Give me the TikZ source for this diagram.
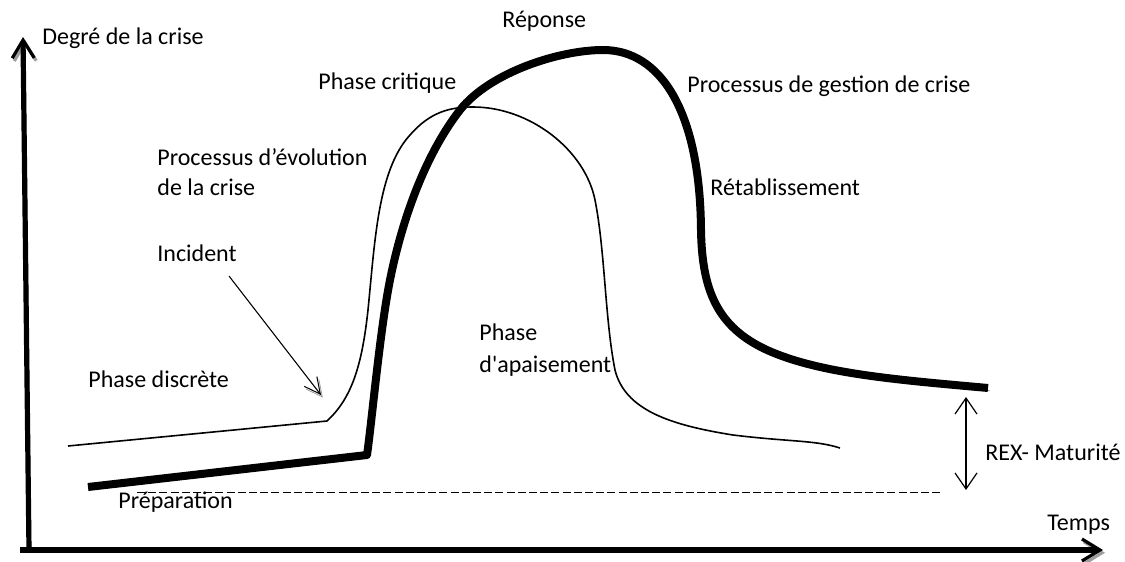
\documentclass[tikz,border=0pt]{standalone}
\usepackage{fontspec}
\setmainfont{Carlito}
\usetikzlibrary{arrows.meta}
\tikzset{
  lbl/.style={anchor=base west, inner sep=0pt, font=\fontsize{12}{14.4}\selectfont},
  shadowed/.style={preaction={draw=black!38, transform canvas={xshift=1pt, yshift=-1.4pt}}},
  axis/.style={line width=2.6pt, shadowed, -{Straight Barb[length=9pt, width=11pt, line width=1.6pt]}},
  crisis/.style={line width=4pt, shadowed, line join=round},
  evol/.style={line width=0.8pt},
}
\begin{document}
\begin{tikzpicture}[x=0.5pt,y=0.5pt,yscale=-1,xscale=1]
\useasboundingbox (0,0) rectangle (1125,562);

% Axes
\coordinate (o) at (29,550);
\coordinate (ytop) at (23,37);
\coordinate (xend) at (1103,550);
\draw [axis] (o) -- (ytop);
\draw [axis] (20,550) -- (xend);

%Curve: Processus d'evolution
\draw [evol] (68,446) -- (327,421) .. controls (352,398) and (362,365) .. (368,310)
  .. controls (375,240) and (378,170) .. (410,135)
  .. controls (430,112) and (450,107) .. (473,107)
  .. controls (530,107) and (585,150) .. (595,200)
  .. controls (605,250) and (605,320) .. (615,370)
  .. controls (625,410) and (670,425) .. (733,435)
  .. controls (790,442) and (815,440) .. (840,448) ;

%Curve: Processus de gestion
\draw [crisis] (88,487) -- (367,455) .. controls (372,420) and (380,330) .. (390,280)
  .. controls (402,220) and (425,155) .. (460,110)
  .. controls (490,72) and (560,50) .. (603,50)
  .. controls (660,50) and (700,110) .. (701,230)
  .. controls (702,290) and (717,327) .. (767,350)
  .. controls (820,374) and (900,380) .. (988,388) ;

%Straight Lines: preparation
\coordinate (prep0) at (137,492);
\coordinate (prep1) at (943,492);
\draw [line width=0.5pt, dash pattern=on 4pt off 1.6pt] (prep0) -- (prep1);

%Straight Lines: REX
\coordinate (rex0) at (966,397);
\coordinate (rex1) at (966,490);
\draw [line width=0.6pt, {Straight Barb[length=8pt, width=11pt]}-{Straight Barb[length=8pt, width=11pt]}] (rex0) -- (rex1);

%Straight Lines: incident
\coordinate (inc0) at (229,276);
\coordinate (inc1) at (321,395);
\draw [line width=0.5pt, shadowed, -{Straight Barb[length=8pt, width=8pt]}] (inc0) -- (inc1);

% Text Node
\node [lbl] (degre) at (42,44) {Degré de la crise};
% Text Node
\node [lbl] (critique) at (318,90) {Phase critique};
% Text Node
\node [lbl] (reponse) at (502,27) {Réponse};
% Text Node
\node [lbl] (gestion) at (687,92) {Processus de gestion de crise};
% Text Node
\node [lbl] (evolution) at (157,165) {Processus d’évolution};
% Text Node
\node [lbl] (evolution2) at (157,195) {de la crise};
% Text Node
\node [lbl] (retab) at (710,195) {Rétablissement};
% Text Node
\node [lbl] (incident) at (157,261) {Incident};
% Text Node
\node [lbl] (apais) at (479,340) {Phase};
% Text Node
\node [lbl] (apais2) at (479,372) {d\textquotesingle apaisement};
% Text Node
\node [lbl] (discrete) at (88,387) {Phase discrète};
% Text Node
\node [lbl] (rex) at (985,460) {REX- Maturité};
% Text Node
\node [lbl] (prep) at (118,508) {Préparation};
% Text Node
\node [lbl] (temps) at (1047,530) {Temps};

\end{tikzpicture}
\end{document}
